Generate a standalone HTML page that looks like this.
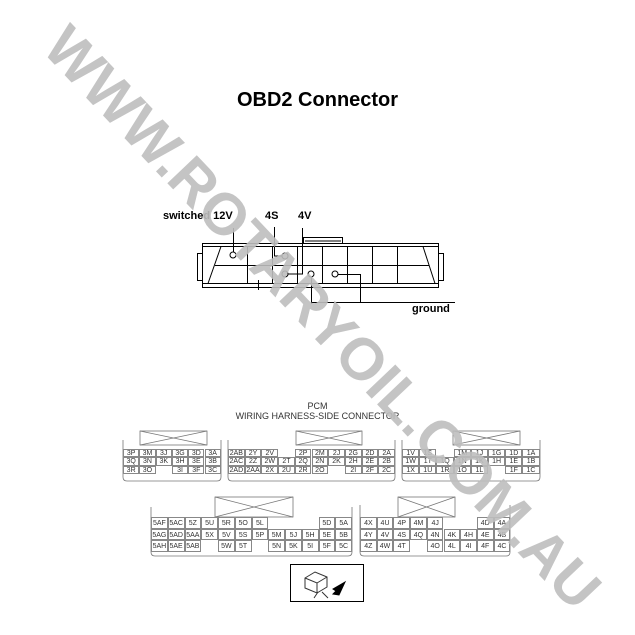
<!DOCTYPE html>
<html><head><meta charset="utf-8"><style>
body{margin:0;background:#fff;}
#w{position:relative;width:635px;height:635px;overflow:hidden;font-family:"Liberation Sans",sans-serif;}
.t{position:absolute;white-space:nowrap;}
.cell{position:absolute;font-size:7px;color:#333;text-align:center;line-height:10px;border:0.5px solid #888;box-sizing:border-box;}
#wm{position:absolute;left:322px;top:318px;transform:translate(-50%,-50%) rotate(46.5deg);font-size:59px;font-weight:bold;color:rgba(190,190,190,0.9);white-space:nowrap;line-height:59px;}
</style></head><body><div id="w">
<div class="t" style="left:0;width:635px;text-align:center;top:89px;font-size:20px;font-weight:bold;">OBD2 Connector</div>
<div class="t" style="left:163px;top:210px;font-size:11px;font-weight:bold;">switched 12V</div>
<div class="t" style="left:265px;top:210px;font-size:11px;font-weight:bold;">4S</div>
<div class="t" style="left:298px;top:210px;font-size:11px;font-weight:bold;">4V</div>
<div class="t" style="left:412px;top:303px;font-size:11px;font-weight:bold;">ground</div>
<svg width="635" height="635" style="position:absolute;left:0;top:0" fill="none" stroke="#000" stroke-width="1">
<rect x="202.5" y="243.5" width="236" height="44"/>
<rect x="197.5" y="253.5" width="5" height="27"/>
<rect x="438.5" y="253.5" width="5" height="27"/>
<path d="M303.5 243.5V237.5H342.5V243.5M305 241H341"/>
<path d="M202.5 246.5H438.5M202.5 283.5H438.5M221 246.5L208 283.5M423 246.5L435 283.5M215 265.5H429"/>
<path d="M247.5 246.5V283.5M272.5 246.5V283.5M297.5 246.5V283.5M322.5 246.5V283.5M347.5 246.5V283.5M372.5 246.5V283.5M397.5 246.5V283.5"/>
<g fill="#fff"><circle cx="233" cy="255" r="3"/><circle cx="285" cy="256" r="3"/><circle cx="285" cy="274" r="3"/><circle cx="311" cy="274" r="3"/><circle cx="335" cy="274" r="3"/></g>
<path d="M233.5 228V252M274.5 227V256H282M302.5 228V274H288M311.5 277V304M311 302.5H455M338 274.5H360.5V302M258.5 280V290"/>
<g stroke="#777" stroke-width="0.8">
<path d="M123 440V477Q123 481 127 481H217Q221 481 221 477V440"/><rect x="140" y="431" width="67" height="14"/><path d="M140 431L207 445M140 445L207 431"/>
<path d="M228 440V477Q228 481 232 481H391Q395 481 395 477V440"/><rect x="296" y="431" width="66" height="14"/><path d="M296 431L362 445M296 445L362 431"/>
<path d="M402 440V477Q402 481 406 481H536Q540 481 540 477V440"/><rect x="453" y="431" width="67" height="14"/><path d="M453 431L520 445M453 445L520 431"/>
<path d="M151 507V552Q151 556 155 556H348Q352 556 352 552V507"/><rect x="215" y="497" width="78" height="20"/><path d="M215 497L293 517M215 517L293 497"/>
<path d="M360 505V552Q360 556 364 556H506Q510 556 510 552V505"/><rect x="398" y="497" width="57" height="20"/><path d="M398 497L455 517M398 517L455 497"/>
</g>
<rect x="290.5" y="564.5" width="73" height="37" stroke="#000"/>
<path d="M305 578l10-6 12 5v10l-10 6-12-5z M305 578l12 5 10-6M317 583v10" stroke="#333"/>
<path d="M345 582l-12 7 3 2-3 3 6 1z" fill="#000"/>
<path d="M318 592l-4 6M322 592l6 6" stroke="#333"/>
</svg>
<div id="cells"></div>
<div class="t" style="left:0;width:635px;text-align:center;top:401px;font-size:9px;color:#333">PCM</div>
<div class="t" style="left:0;width:635px;text-align:center;top:411px;font-size:9px;color:#333">WIRING HARNESS-SIDE CONNECTOR</div>
<div id="wm">WWW.ROTARYOIL.COM.AU</div>
</div>
<script>
var groups=[
[123,449,16.3,8.4,[["3P","3M","3J","3G","3D","3A"],["3Q","3N","3K","3H","3E","3B"],["3R","3O","","3I","3F","3C"]]],
[228,449,16.7,8.4,[["2AB","2Y","2V","","2P","2M","2J","2G","2D","2A"],["2AC","2Z","2W","2T","2Q","2N","2K","2H","2E","2B"],["2AD","2AA","2X","2U","2R","2O","","2I","2F","2C"]]],
[402,449,17.2,8.4,[["1V","1S","","1M","1J","1G","1D","1A"],["1W","1T","1Q","1N","1K","1H","1E","1B"],["1X","1U","1R","1O","1L","","1F","1C"]]],
[151,517,16.75,11.7,[["5AF","5AC","5Z","5U","5R","5O","5L","","","","5D","5A"],["5AG","5AD","5AA","5X","5V","5S","5P","5M","5J","5H","5E","5B"],["5AH","5AE","5AB","","5W","5T","","5N","5K","5I","5F","5C"]]],
[360,517,16.7,11.7,[["4X","4U","4P","4M","4J","","","4D","4A"],["4Y","4V","4S","4Q","4N","4K","4H","4E","4B"],["4Z","4W","4T","","4O","4L","4I","4F","4C"]]]];
var h="";groups.forEach(function(g){g[4].forEach(function(r,ri){r.forEach(function(c,ci){if(!c)return;h+='<div class="cell" style="left:'+(g[0]+ci*g[2])+'px;top:'+(g[1]+ri*g[3])+'px;width:'+g[2]+'px;height:'+g[3]+'px;line-height:'+g[3]+'px">'+c+'</div>';});});});
document.getElementById("cells").innerHTML=h;
</script>
</body></html>
